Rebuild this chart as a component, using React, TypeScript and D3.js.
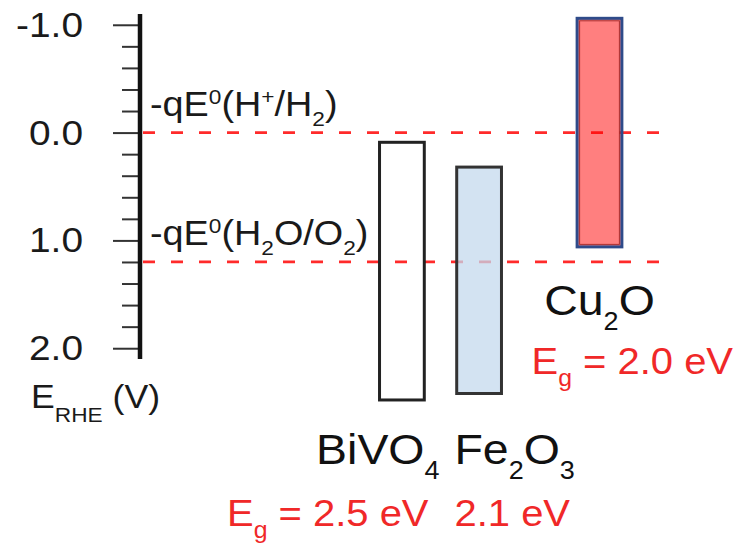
import React, { useEffect, useRef } from 'react';
import * as d3 from 'd3';

// band edges vs RHE (V)
const materials = ['BiVO4', 'Fe2O3', 'Cu2O'];
const materialType = ['n', 'n', 'p'];
const cbEdge = [0.09, 0.32, -1.06];
const vbEdge = [2.48, 2.42, 1.06];
const bandGap = ['2.5', '2.1', '2.0'];

const redoxCouples = ['H+/H2', 'H2O/O2'];
const redoxPotential = [0, 1.2];

const yTicks = [-1, 0, 1, 2];
const yMinorTicks = [-0.8, -0.6, -0.4, -0.2, 0.2, 0.4, 0.6, 0.8, 1.2, 1.4, 1.6, 1.8];

const FONT = '"Liberation Sans", Arial, Helvetica, sans-serif';
const RED = '#f02828';
const SX = 1.08; // original lettering is a bit wider than Arial

type Run = { t: string; k?: 'sub' | 'sup' };

// digits -> subscripts, '+' -> superscript
const parseFormula = (s: string): Run[] => {
  const runs: Run[] = [];
  for (const ch of s) {
    const k = /[0-9]/.test(ch) ? 'sub' : ch === '+' ? 'sup' : undefined;
    const last = runs[runs.length - 1];
    if (last && last.k === k) last.t += ch;
    else runs.push({ t: ch, k });
  }
  return runs;
};

const appendRich = (text: any, runs: Run[], size: number, small: number, subDy: number, supDy: number) => {
  let offset = 0;
  runs.forEach(r => {
    const target = r.k === 'sub' ? subDy : r.k === 'sup' ? -supDy : 0;
    text.append('tspan')
      .attr('dy', target - offset)
      .attr('font-size', r.k ? small : size)
      .text(r.t);
    offset = target;
  });
};

const addText = (parent: any, x: number, y: number, fill: string, anchor = 'start') =>
  parent.append('text')
    .attr('transform', `translate(${x},${y}) scale(${SX},1)`)
    .attr('text-anchor', anchor)
    .attr('font-family', FONT)
    .attr('fill', fill);

const App = () => {
  const ref = useRef<SVGSVGElement>(null);

  useEffect(() => {
    const width = 739;
    const height = 546;
    const axisX = 140;

    const svg = d3.select(ref.current)
      .attr('width', width)
      .attr('height', height);

    svg.selectAll('*').remove();

    const y = d3.scaleLinear().domain([-1.1, 2.1]).range([14, 359]);

    // group scale: n-type photoanodes vs p-type photocathode
    const groups = Array.from(new Set(materialType));
    const xGroup = d3.scaleBand().domain(groups).range([361, 679]).padding(0);
    const inner = new Map<string, d3.ScaleBand<string>>();
    groups.forEach(g => {
      inner.set(g, d3.scaleBand()
        .domain(materials.filter((_, i) => materialType[i] === g))
        .range([0, xGroup.bandwidth()])
        .paddingInner(0.42)
        .paddingOuter(0.24));
    });
    const barW = inner.get('n')!.bandwidth();
    const centerOf = (i: number) => {
      const g = materialType[i];
      const s = inner.get(g)!;
      return xGroup(g)! + s(materials[i])! + s.bandwidth() / 2;
    };

    // redox levels
    const lineEnd = xGroup.range()[1] - 7;
    redoxPotential.forEach((v, i) => {
      svg.append('line')
        .attr('x1', axisX + 3)
        .attr('x2', lineEnd)
        .attr('y1', y(v))
        .attr('y2', y(v))
        .attr('stroke', '#ff2a2a')
        .attr('stroke-width', 2.8)
        .attr('stroke-dasharray', '12,16');

      const t = addText(svg, axisX + 10, y(v) - 17, '#1a1a1a');
      const runs: Run[] = [{ t: '-qE' }, { t: '0', k: 'sup' }, { t: '(' }, ...parseFormula(redoxCouples[i]), { t: ')' }];
      appendRich(t, runs, 35, 21, 10, 12);
    });

    // bars
    const fills = ['none', 'rgba(196,218,238,0.75)', 'rgba(255,0,0,0.5)'];
    const strokes = ['#222', '#333', '#2f4b8a'];
    materials.forEach((m, i) => {
      const cx = centerOf(i);
      svg.append('rect')
        .attr('x', cx - barW / 2)
        .attr('y', y(cbEdge[i]))
        .attr('width', barW)
        .attr('height', y(vbEdge[i]) - y(cbEdge[i]))
        .attr('fill', fills[i])
        .attr('stroke', strokes[i])
        .attr('stroke-width', 3);
      if (materialType[i] === 'p') {
        svg.append('rect')
          .attr('x', cx - barW / 2 + 2.5)
          .attr('y', y(cbEdge[i]) + 2.5)
          .attr('width', barW - 5)
          .attr('height', y(vbEdge[i]) - y(cbEdge[i]) - 5)
          .attr('fill', 'none')
          .attr('stroke', '#a83030')
          .attr('stroke-width', 1);
      }
    });

    // material labels and band gaps
    groups.forEach(g => {
      const idx = materials.map((_, i) => i).filter(i => materialType[i] === g);
      const bottom = y(d3.max(idx, i => vbEdge[i])!);
      const gc = xGroup(g)! + xGroup.bandwidth() / 2;
      const pair = idx.length > 1;

      idx.forEach((i, k) => {
        const anchor = pair ? (k === 0 ? 'end' : 'start') : 'start';
        const lx = pair ? (k === 0 ? gc - 1 : gc + 14) : centerOf(i);
        const ex = pair ? (k === 0 ? gc - 12 : gc + 14) : centerOf(i) - 68;

        const lab = addText(svg, lx, bottom + (pair ? 64 : 68), '#111', pair ? anchor : 'middle');
        appendRich(lab, parseFormula(materials[i]), 43, 25, 15, 0);

        const eg = addText(svg, ex, bottom + (pair ? 126 : 127), RED, anchor);
        const runs: Run[] = k === 0
          ? [{ t: 'E' }, { t: 'g', k: 'sub' }, { t: ' = ' + bandGap[i] + ' eV' }]
          : [{ t: bandGap[i] + ' eV' }];
        appendRich(eg, runs, 37, 23, 12, 0);
      });
    });

    // potential axis
    const axisG = svg.append('g').attr('transform', `translate(${axisX},0)`);

    axisG.append('g')
      .call(d3.axisLeft(y).tickValues(yMinorTicks).tickSize(18).tickFormat(() => ''))
      .call(g => g.select('.domain').remove())
      .call(g => g.selectAll('line').attr('stroke', '#333').attr('stroke-width', 2));

    axisG.append('g')
      .call(d3.axisLeft(y).tickValues(yTicks).tickSize(27).tickPadding(32)
        .tickFormat(d => (+d).toFixed(1)))
      .call(g => g.select('.domain').remove())
      .call(g => g.selectAll('line').attr('stroke', '#333').attr('stroke-width', 2))
      .call(g => g.selectAll('text')
        .attr('x', -57 / SX)
        .attr('transform', `scale(${SX},1)`)
        .attr('font-family', FONT)
        .attr('font-size', 36)
        .attr('fill', '#1a1a1a'));

    axisG.append('line')
      .attr('y1', y.range()[0])
      .attr('y2', y.range()[1])
      .attr('stroke', '#111')
      .attr('stroke-width', 4.5);

    const title = addText(svg, 31, 408, '#1a1a1a');
    appendRich(title, [{ t: 'E' }, { t: 'RHE', k: 'sub' }, { t: ' (V)' }], 33, 21, 14, 0);
  }, []);

  return (
    <svg ref={ref} style={{ position: 'absolute', left: 0, top: 0, background: '#fff' }}></svg>
  );
};

export default App;
